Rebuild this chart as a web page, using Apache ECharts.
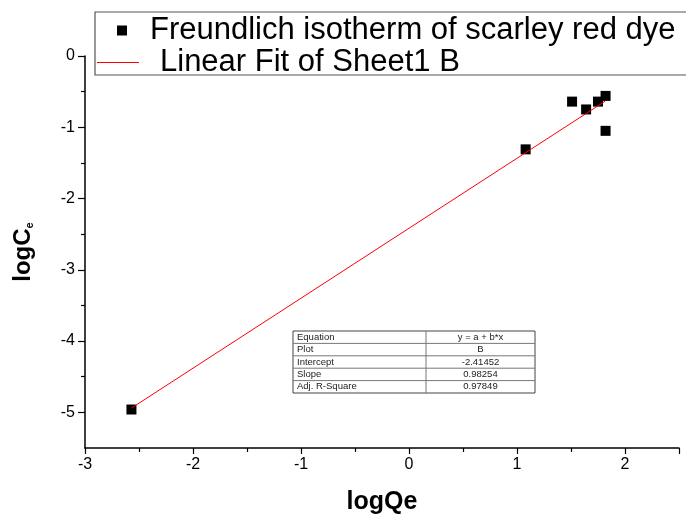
<!DOCTYPE html>
<html>
<head>
<meta charset="utf-8">
<script src="https://cdn.jsdelivr.net/npm/echarts@6/dist/echarts.min.js"></script>
<style>html,body{margin:0;padding:0;background:#fff}#c{width:686px;height:514px}</style>
</head>
<body>
<div id="c"></div>
<script>
// Data
var seriesScatterName = 'Freundlich isotherm of scarley red dye';
var seriesFitName = 'Linear Fit of Sheet1 B';
var logQe = [-2.57, 1.08, 1.51, 1.64, 1.75, 1.82, 1.82];
var logCe = [-4.96, -1.31, -0.64, -0.75, -0.64, -0.56, -1.05];
var fitX = [-2.57, 1.82];
var fitY = [-4.94, -0.63];
var yMajorTicks = [0, -1, -2, -3, -4, -5];
var yMinorTicks = [-0.5, -1.5, -2.5, -3.5, -4.5];
var tableLabels = ['Equation', 'Plot', 'Intercept', 'Slope', 'Adj. R-Square'];
var tableValues = ['y = a + b*x', 'B', '-2.41452', '0.98254', '0.97849'];

var FONT = '"Liberation Sans", Arial, sans-serif';

var scatterData = logQe.map(function (x, i) { return [x, logCe[i]]; });
var fitData = fitX.map(function (x, i) { return [x, fitY[i]]; });

// table graphic
var tX = 293, tY = 331, tW = 242, colX = 426, rowH = 12.4;
var tableEls = [{
  type: 'rect', shape: { x: tX, y: tY, width: tW, height: rowH * tableLabels.length },
  style: { fill: '#fff', stroke: '#444', lineWidth: 1 }
}, {
  type: 'line', shape: { x1: colX, y1: tY, x2: colX, y2: tY + rowH * tableLabels.length },
  style: { stroke: '#777', lineWidth: 1 }
}];
tableLabels.forEach(function (lab, i) {
  if (i > 0) {
    tableEls.push({ type: 'line', shape: { x1: tX, y1: tY + rowH * i, x2: tX + tW, y2: tY + rowH * i },
      style: { stroke: '#777', lineWidth: 1 } });
  }
  tableEls.push({ type: 'text', x: tX + 4, y: tY + rowH * i + rowH / 2,
    style: { text: lab, font: '9.5px ' + FONT, fill: '#222', textAlign: 'left', textVerticalAlign: 'middle' } });
  tableEls.push({ type: 'text', x: (colX + tX + tW) / 2, y: tY + rowH * i + rowH / 2,
    style: { text: tableValues[i], font: '9.5px ' + FONT, fill: '#222', textAlign: 'center', textVerticalAlign: 'middle' } });
});

var chart = echarts.init(document.getElementById('c'), null, { renderer: 'canvas' });
chart.setOption({
  animation: false,
  backgroundColor: '#fff',
  grid: { left: 85, right: 7, top: 56, bottom: 66, containLabel: false, outerBoundsMode: 'none' },
  legend: [{
    left: 117, top: 15, padding: 0,
    itemWidth: 10, itemHeight: 10,
    data: [{ name: seriesScatterName, icon: 'rect', itemStyle: { color: '#000', opacity: 1 } }],
    textStyle: { fontSize: 31, fontFamily: FONT, color: '#000', padding: [0, 0, 0, 18] }
  }, {
    left: 97, top: 47, padding: 0,
    itemWidth: 42, itemHeight: 1.2,
    data: [{ name: seriesFitName, icon: 'rect', itemStyle: { color: '#ff0000' } }],
    textStyle: { fontSize: 31, fontFamily: FONT, color: '#000', padding: [0, 0, 0, 16] }
  }],
  xAxis: {
    type: 'value', min: -3, max: 2.5, interval: 1,
    name: 'logQe', nameLocation: 'middle', nameGap: 42,
    nameTextStyle: { fontSize: 25, fontWeight: 'bold', fontFamily: FONT, color: '#000' },
    axisLine: { onZero: false, lineStyle: { color: '#000', width: 1.5 } },
    axisTick: { length: 6, lineStyle: { color: '#000', width: 1.2 } },
    minorTick: { show: true, splitNumber: 2, length: 4, lineStyle: { color: '#000', width: 1.2 } },
    splitLine: { show: false },
    axisLabel: { fontSize: 16, fontFamily: FONT, color: '#000', margin: 9,
      formatter: function (v) { return v === 2.5 ? '' : String(v); } }
  },
  yAxis: [{
    type: 'value', min: -5.5, max: 0, interval: 0.5,
    name: '{b|logC}{s|e}', nameLocation: 'middle', nameGap: 50, nameRotate: 90,
    nameTextStyle: {
      rich: {
        b: { fontSize: 24, fontWeight: 'bold', fontFamily: FONT, color: '#000' },
        s: { fontSize: 11, fontWeight: 'bold', fontFamily: FONT, color: '#000', verticalAlign: 'bottom', padding: [12, 0, 0, 0] }
      }
    },
    axisLine: { onZero: false, lineStyle: { color: '#000', width: 1.5 } },
    axisTick: { length: 7, customValues: yMajorTicks, lineStyle: { color: '#000', width: 1.2 } },
    splitLine: { show: false },
    axisLabel: { fontSize: 16, fontFamily: FONT, color: '#000', margin: 10, customValues: yMajorTicks,
      formatter: function (v) { return String(v); } }
  }, {
    type: 'value', min: -5.5, max: 0, interval: 0.5, position: 'left',
    axisLine: { show: false, onZero: false },
    axisTick: { show: true, length: 4, customValues: yMinorTicks, lineStyle: { color: '#000', width: 1.2 } },
    axisLabel: { show: false },
    splitLine: { show: false }
  }],
  graphic: [{
    type: 'rect', shape: { x: 95, y: 12, width: 620, height: 63 },
    style: { fill: 'none', stroke: '#555', lineWidth: 1.2 }, z: 100
  }, {
    type: 'group', children: tableEls, z: 100
  }],
  series: [{
    name: seriesFitName, type: 'line', data: fitData, symbol: 'none',
    lineStyle: { color: '#ff0000', width: 1 }, itemStyle: { color: '#ff0000' }, z: 3
  }, {
    name: seriesScatterName, type: 'scatter', data: scatterData,
    symbol: 'rect', symbolSize: 10, itemStyle: { color: '#000', opacity: 1 }, z: 2
  }]
});
</script>
</body>
</html>
